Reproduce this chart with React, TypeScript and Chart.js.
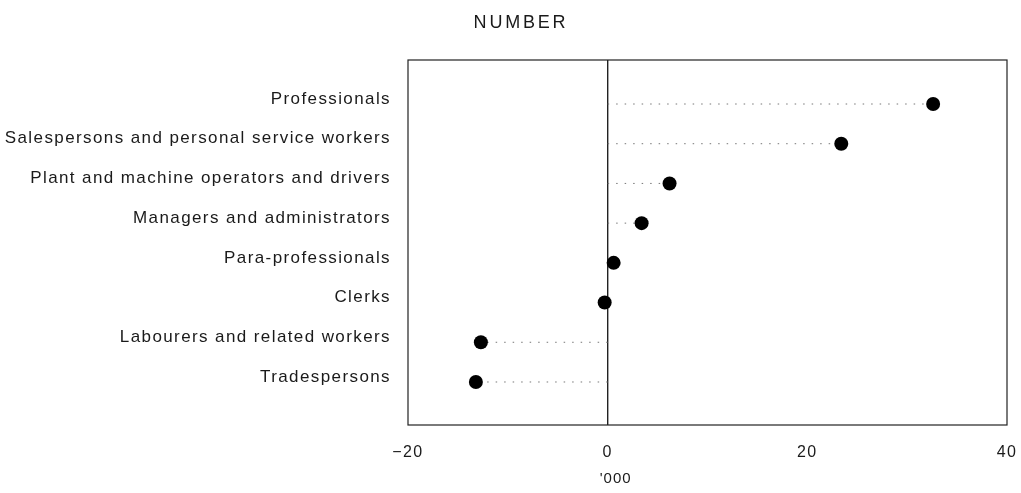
import React, { useEffect, useRef } from "react";
import { Chart, registerables } from "chart.js";

Chart.register(...registerables);

const categories: string[] = [
  "Professionals",
  "Salespersons and personal service workers",
  "Plant and machine operators and drivers",
  "Managers and administrators",
  "Para-professionals",
  "Clerks",
  "Labourers and related workers",
  "Tradespersons",
];
const changeThousands: number[] = [32.6, 23.4, 6.2, 3.4, 0.6, -0.3, -12.7, -13.2];
const xTickValues: number[] = [-20, 0, 20, 40];
const xTickLabels: string[] = ["\u221220", "0", "20", "40"];
const titleText = "NUMBER";
const xUnitText = "'000";

const FONT = "'Liberation Sans', Arial, Helvetica, sans-serif";
const INK = "#1a1a1a";

const framePlugin = {
  id: "framePlugin",
  beforeDraw(chart: any) {
    chart.ctx.letterSpacing = "1.4px";
  },
  beforeDatasetsDraw(chart: any) {
    const { ctx, chartArea } = chart;
    const xs = chart.scales.x;
    const meta = chart.getDatasetMeta(0);
    const zx = xs.getPixelForValue(0);
    ctx.save();
    ctx.strokeStyle = "#777";
    ctx.lineWidth = 1;
    ctx.setLineDash([1.5, 7]);
    meta.data.forEach((pt: any) => {
      ctx.beginPath();
      ctx.moveTo(zx, pt.y);
      ctx.lineTo(pt.x, pt.y);
      ctx.stroke();
    });
    ctx.setLineDash([]);
    ctx.strokeStyle = "#222";
    ctx.lineWidth = 1.2;
    ctx.strokeRect(chartArea.left, chartArea.top, chartArea.right - chartArea.left, chartArea.bottom - chartArea.top);
    ctx.restore();
  },
  afterDraw(chart: any) {
    const { ctx, chartArea } = chart;
    const xs = chart.scales.x;
    ctx.save();
    ctx.fillStyle = INK;
    ctx.textBaseline = "middle";
    ctx.textAlign = "center";
    ctx.font = `18px ${FONT}`;
    ctx.letterSpacing = "2.8px";
    ctx.fillText(titleText, chartArea.left + 113, 23);
    ctx.font = `15px ${FONT}`;
    ctx.letterSpacing = "1px";
    ctx.fillText(xUnitText, xs.getPixelForValue(0) + 8, 479);
    ctx.restore();
    ctx.letterSpacing = "0px";
  },
};

export default function App() {
  const ref = useRef<HTMLCanvasElement | null>(null);

  useEffect(() => {
    if (!ref.current) return;
    const chart = new Chart(ref.current, {
      type: "scatter",
      data: {
        datasets: [
          {
            data: categories.map((c, i) => ({ x: changeThousands[i], y: i })),
            backgroundColor: "#000",
            borderWidth: 0,
            pointRadius: 7,
            pointHoverRadius: 7,
          },
        ],
      },
      options: {
        animation: false,
        responsive: true,
        maintainAspectRatio: false,
        layout: { padding: { top: 60, right: 14, left: 0, bottom: 0 } },
        plugins: {
          legend: { display: false },
          tooltip: { enabled: false },
          title: { display: false },
        },
        scales: {
          x: {
            type: "linear",
            min: -20,
            max: 40,
            afterBuildTicks: (s: any) => {
              s.ticks = xTickValues.map((v) => ({ value: v }));
            },
            afterFit: (s: any) => {
              s.height = 68;
              s.paddingLeft = 0;
              s.paddingRight = 0;
            },
            ticks: {
              autoSkip: false,
              maxRotation: 0,
              padding: 18,
              color: INK,
              font: { family: FONT, size: 16 },
              callback: (v: any) => xTickLabels[xTickValues.indexOf(Number(v))] ?? "",
            },
            grid: {
              drawTicks: false,
              color: (ctx: any) => (ctx.tick && ctx.tick.value === 0 ? "#222" : "rgba(0,0,0,0)"),
              lineWidth: 1.4,
            },
            border: { display: false },
          },
          y: {
            type: "linear",
            reverse: true,
            min: -1.108,
            max: 8.083,
            afterBuildTicks: (s: any) => {
              s.ticks = categories.map((_, i) => ({ value: i }));
            },
            afterFit: (s: any) => {
              s.width = 408;
              s.paddingTop = 0;
              s.paddingBottom = 0;
            },
            ticks: {
              autoSkip: false,
              padding: 17,
              labelOffset: -5,
              color: INK,
              font: { family: FONT, size: 17 },
              callback: (v: any) => categories[Number(v)] ?? "",
            },
            grid: { display: false, drawTicks: false },
            border: { display: false },
          },
        },
      },
      plugins: [framePlugin],
    });
    return () => chart.destroy();
  }, []);

  return (
    <div style={{ position: "absolute", left: 0, top: 0, width: 1021, height: 493, background: "#fff" }}>
      <canvas ref={ref} />
    </div>
  );
}
